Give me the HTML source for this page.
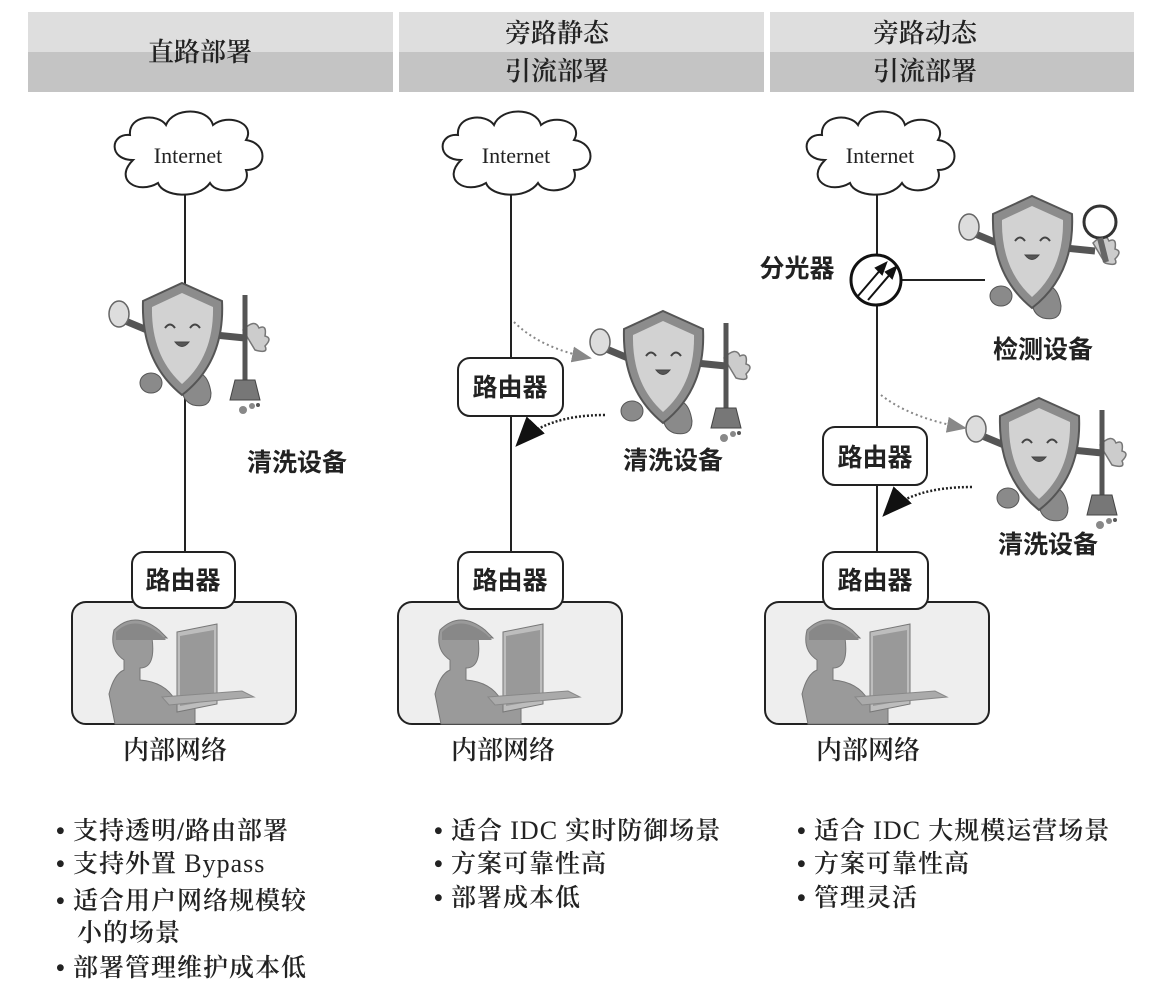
<!DOCTYPE html>
<html><head><meta charset="utf-8"><style>
html,body{margin:0;padding:0;background:#fff;}
svg{display:block;}
.h{font-family:"Liberation Serif","Noto Serif CJK SC",serif;font-size:26px;fill:#222;text-anchor:middle;font-weight:600;}
.l{font-family:"Liberation Sans","Noto Sans CJK SC",sans-serif;font-size:25px;fill:#222;font-weight:bold;text-anchor:middle;}
.n{font-family:"Liberation Serif","Noto Serif CJK SC",serif;font-size:26px;fill:#222;text-anchor:middle;font-weight:600;}
.b{font-family:"Liberation Serif","Noto Serif CJK SC",serif;font-size:25px;fill:#222;font-weight:600;letter-spacing:1px;}
.b tspan.e{font-weight:normal;font-size:26px;}
.i{font-family:"Liberation Serif",serif;font-size:22px;fill:#222;text-anchor:middle;}
</style></head><body>
<svg width="1164" height="996" viewBox="0 0 1164 996" xmlns="http://www.w3.org/2000/svg">
<defs>
<g id="cloud">
<path d="M-55,5 C-80,5 -78,-22 -58,-20 C-60,-40 -30,-42 -22,-30 C-15,-48 20,-48 25,-30 C40,-42 68,-32 58,-15 C80,-12 80,15 58,15 C65,35 30,42 22,28 C10,45 -25,42 -30,28 C-50,40 -75,25 -55,5 Z" fill="#fff" stroke="#222" stroke-width="2"/>
</g>
<g id="body">
<path d="M42,50 L18,40" stroke="#555" stroke-width="7" stroke-linecap="round"/>
<ellipse cx="14" cy="34" rx="10" ry="13" fill="#ddd" stroke="#666" stroke-width="1.5"/>
<path d="M110,55 L140,58" stroke="#555" stroke-width="7"/>
<path d="M138,50 q12,-12 16,-2 q8,-4 6,8 q8,2 0,10 q4,8 -10,4 z" fill="#ccc" stroke="#777" stroke-width="1.5"/>
<ellipse cx="46" cy="103" rx="11" ry="10" fill="#8a8a8a" stroke="#555"/>
<path d="M80,95 q22,-10 26,18 q0,16 -18,12 q-16,-6 -8,-30z" fill="#8a8a8a" stroke="#555"/>
<path d="M77,3 L117,21 Q120,82 77,115 Q36,82 38,21 Z" fill="#8c8c8c" stroke="#555" stroke-width="2"/>
<path d="M77,13 L108,27 Q109,76 77,104 Q46,76 47,27 Z" fill="#d2d2d2"/>
<path d="M60,48 q5,-7 10,0 M85,48 q5,-7 10,0" stroke="#444" stroke-width="2" fill="none"/>
<path d="M70,62 q7,9 14,0 z" fill="#555" stroke="#444"/>
</g>
<g id="broom">
<line x1="140" y1="15" x2="140" y2="102" stroke="#555" stroke-width="5"/>
<path d="M130,100 L150,100 L155,120 L125,120 Z" fill="#777" stroke="#444"/>
<circle cx="138" cy="130" r="4" fill="#888"/><circle cx="147" cy="126" r="3" fill="#888"/><circle cx="153" cy="125" r="2" fill="#555"/>
</g>
<g id="net">
<rect x="0" y="0" width="224" height="122" rx="14" fill="#eee" stroke="#222" stroke-width="2"/>
<path d="M42,28 q20,-20 45,0 l8,8 l-15,0 q4,30 -12,30 l0,12 q25,2 35,20 l20,0 l0,24 l-80,0 l-6,-30 q5,-20 15,-24 l0,-10 q-15,-10 -10,-30z" fill="#9a9a9a" stroke="#777"/>
<path d="M44,30 q18,-18 44,2 l6,6 l-50,0z" fill="#888"/>
<path d="M105,30 l40,-8 l0,80 l-40,8z" fill="#bdbdbd" stroke="#777"/>
<path d="M108,34 l34,-6 l0,70 l-34,6z" fill="#999"/>
<path d="M90,95 l80,-6 l12,6 l-85,8z" fill="#aaa" stroke="#888"/>
</g>
<marker id="ag" markerWidth="10" markerHeight="8" refX="9" refY="4" orient="auto"><path d="M0,0 L10,4 L0,8 Z" fill="#888"/></marker>
<marker id="ad" markerWidth="12" markerHeight="10" refX="11" refY="5" orient="auto"><path d="M0,0 L12,5 L0,10 Z" fill="#111"/></marker>
</defs>

<!-- headers -->
<rect x="28" y="12" width="365" height="40" fill="#dedede"/><rect x="28" y="52" width="365" height="40" fill="#c4c4c4"/>
<rect x="399" y="12" width="365" height="40" fill="#dedede"/><rect x="399" y="52" width="365" height="40" fill="#c4c4c4"/>
<rect x="770" y="12" width="364" height="40" fill="#dedede"/><rect x="770" y="52" width="364" height="40" fill="#c4c4c4"/>
<text class="h" x="200" y="61">直路部署</text>
<text class="h" x="557" y="42">旁路静态</text><text class="h" x="557" y="80">引流部署</text>
<text class="h" x="925" y="42">旁路动态</text><text class="h" x="925" y="80">引流部署</text>

<!-- column 1 -->
<line x1="185" y1="195" x2="185" y2="555" stroke="#222" stroke-width="2"/>
<use href="#cloud" transform="translate(188,155)"/><text class="i" x="188" y="163">Internet</text>
<use href="#body" transform="translate(105,280)"/><use href="#broom" transform="translate(105,280)"/>
<text class="l" x="297" y="471">清洗设备</text>
<use href="#net" transform="translate(72,602)"/>
<rect x="132" y="552" width="103" height="56" rx="12" fill="#fff" stroke="#222" stroke-width="2"/>
<text class="l" x="183" y="589">路由器</text>
<text class="n" x="175" y="759">内部网络</text>

<!-- column 2 -->
<line x1="511" y1="195" x2="511" y2="555" stroke="#222" stroke-width="2"/>
<use href="#cloud" transform="translate(516,155)"/><text class="i" x="516" y="163">Internet</text>
<use href="#body" transform="translate(586,308)"/><use href="#broom" transform="translate(586,308)"/>
<text class="l" x="673" y="469">清洗设备</text>
<path d="M514,322 Q540,348 590,358" stroke="#888" stroke-width="2" stroke-dasharray="2,3" fill="none" marker-end="url(#ag)"/>
<path d="M605,415 Q545,415 517,445" stroke="#222" stroke-width="2.5" stroke-dasharray="2,2" fill="none" marker-end="url(#ad)"/>
<rect x="458" y="358" width="105" height="58" rx="12" fill="#fff" stroke="#222" stroke-width="2"/>
<text class="l" x="510" y="396">路由器</text>
<use href="#net" transform="translate(398,602)"/>
<rect x="458" y="552" width="105" height="57" rx="12" fill="#fff" stroke="#222" stroke-width="2"/>
<text class="l" x="510" y="589">路由器</text>
<text class="n" x="503" y="759">内部网络</text>

<!-- column 3 -->
<line x1="877" y1="195" x2="877" y2="555" stroke="#222" stroke-width="2"/>
<use href="#cloud" transform="translate(880,155)"/><text class="i" x="880" y="163">Internet</text>
<line x1="900" y1="280" x2="985" y2="280" stroke="#222" stroke-width="2"/>
<circle cx="876" cy="280" r="25" fill="#fff" stroke="#111" stroke-width="3"/>
<path d="M858,296 L882,268 M868,300 L892,272" stroke="#111" stroke-width="2"/>
<path d="M886,263 L876,268 L882,274Z M896,267 L886,272 L892,278Z" fill="#111" stroke="#111" stroke-width="2"/>
<text class="l" x="797" y="277">分光器</text>
<use href="#body" transform="translate(955,193)"/>
<circle cx="1100" cy="222" r="16" fill="#fff" stroke="#333" stroke-width="3"/>
<line x1="1100" y1="238" x2="1106" y2="262" stroke="#666" stroke-width="6"/>
<text class="l" x="1043" y="358">检测设备</text>
<use href="#body" transform="translate(962,395)"/><use href="#broom" transform="translate(962,395)"/>
<text class="l" x="1048" y="553">清洗设备</text>
<path d="M881,395 Q910,418 965,428" stroke="#888" stroke-width="2" stroke-dasharray="2,3" fill="none" marker-end="url(#ag)"/>
<path d="M972,487 Q910,487 884,515" stroke="#222" stroke-width="2.5" stroke-dasharray="2,2" fill="none" marker-end="url(#ad)"/>
<rect x="823" y="427" width="104" height="58" rx="12" fill="#fff" stroke="#222" stroke-width="2"/>
<text class="l" x="875" y="466">路由器</text>
<use href="#net" transform="translate(765,602)"/>
<rect x="823" y="552" width="105" height="57" rx="12" fill="#fff" stroke="#222" stroke-width="2"/>
<text class="l" x="875" y="589">路由器</text>
<text class="n" x="868" y="759">内部网络</text>

<!-- bullets -->
<g class="b">
<text x="56" y="839">• 支持透明/路由部署</text>
<text x="56" y="872">• 支持外置 <tspan class="e">Bypass</tspan></text>
<text x="56" y="909">• 适合用户网络规模较</text>
<text x="77" y="941">小的场景</text>
<text x="56" y="976">• 部署管理维护成本低</text>
<text x="434" y="839">• 适合 <tspan class="e">IDC</tspan> 实时防御场景</text>
<text x="434" y="872">• 方案可靠性高</text>
<text x="434" y="906">• 部署成本低</text>
<text x="797" y="839">• 适合 <tspan class="e">IDC</tspan> 大规模运营场景</text>
<text x="797" y="872">• 方案可靠性高</text>
<text x="797" y="906">• 管理灵活</text>
</g>
</svg>
</body></html>
